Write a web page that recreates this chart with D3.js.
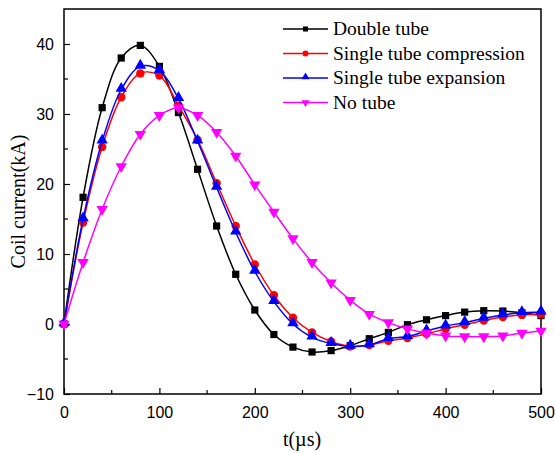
<!DOCTYPE html>
<html>
<head>
<meta charset="utf-8">
<script src="https://cdn.jsdelivr.net/npm/d3@7/dist/d3.min.js"></script>
<style>
  html, body { margin: 0; padding: 0; background: #fff; }
  svg { display: block; }
</style>
</head>
<body>
<svg id="chart" width="555" height="453"></svg>
<script>
// Sample times (µs)
const times = [0, 20, 40, 60, 80, 100, 120, 140, 160, 180, 200, 220, 240, 260,
               280, 300, 320, 340, 360, 380, 400, 420, 440, 460, 480, 500];

// Coil current (kA) per configuration
const doubleTube = [0, 18.1, 30.9, 38.0, 39.8, 36.8, 30.2, 22.1, 14.0, 7.1, 2.0, -1.5, -3.3, -4.0,
                    -3.8, -3.1, -2.1, -1.2, -0.1, 0.6, 1.2, 1.7, 1.9, 1.85, 1.6, 1.2];
const singleCompression = [0, 14.5, 25.3, 32.4, 35.8, 35.5, 31.2, 26.3, 20.1, 14.0, 8.5, 4.1, 0.9, -1.2,
                           -2.5, -3.2, -3.0, -2.4, -2.0, -1.4, -0.7, -0.1, 0.5, 1.0, 1.3, 1.4];
const singleExpansion = [0, 15.0, 26.1, 33.5, 36.8, 36.2, 32.2, 26.1, 19.5, 13.1, 7.5, 3.2, 0.0, -1.9,
                         -2.8, -3.2, -3.0, -2.1, -1.8, -1.0, -0.3, 0.2, 0.8, 1.3, 1.6, 1.7];
const noTube = [0, 8.8, 16.4, 22.5, 27.1, 29.8, 30.9, 29.8, 27.4, 24.0, 19.9, 16.0, 12.2, 8.8,
                5.9, 3.4, 1.4, 0.2, -0.7, -1.3, -1.7, -1.8, -1.8, -1.7, -1.3, -1.0];

const seriesNames = ["Double tube", "Single tube compression", "Single tube expansion", "No tube"];
const xTicks = [0, 100, 200, 300, 400, 500];
const yTicks = [-10, 0, 10, 20, 30, 40];

const series = [
  { name: seriesNames[0], values: doubleTube,        color: "#000000", symbol: "square" },
  { name: seriesNames[1], values: singleCompression, color: "#ff0000", symbol: "circle" },
  { name: seriesNames[2], values: singleExpansion,   color: "#0000ff", symbol: "up" },
  { name: seriesNames[3], values: noTube,            color: "#ff00ff", symbol: "down" }
];

const svg = d3.select("#chart");
const plotLeft = 64, plotTop = 9, plotRight = 541, plotBottom = 394;

const x = d3.scaleLinear().domain([0, 500]).range([plotLeft, plotRight]);
const y = d3.scaleLinear().domain([-10, 45]).range([plotBottom, plotTop]);

// Marker shapes
function markerPath(kind, big) {
  const k = big ? 1 : 0.7;
  if (kind === "square") return d3.symbol().type(d3.symbolSquare).size(52 * k * k)();
  if (kind === "circle") return d3.symbol().type(d3.symbolCircle).size(56 * k * k)();
  return d3.symbol().type(d3.symbolTriangle).size(56 * k * k)();
}
function markerTransform(kind, px, py) {
  if (kind === "down") return `translate(${px},${py}) rotate(180)`;
  if (kind === "up") return `translate(${px},${py - 1})`;
  return `translate(${px},${py})`;
}

// Axes (ticks pointing inward)
const xAxis = d3.axisBottom(x).tickValues(xTicks).tickSizeInner(-6).tickSizeOuter(0).tickPadding(13);
const yAxis = d3.axisLeft(y).tickValues(yTicks).tickSizeInner(-6).tickSizeOuter(0).tickPadding(10);

const gx = svg.append("g").attr("transform", `translate(0,${plotBottom})`).call(xAxis);
const gy = svg.append("g").attr("transform", `translate(${plotLeft},0)`).call(yAxis);

// Minor ticks
const xMinor = d3.range(50, 500, 100);
const yMinor = d3.range(-5, 45, 10);
svg.append("g").selectAll("line").data(xMinor).join("line")
  .attr("x1", d => x(d)).attr("x2", d => x(d))
  .attr("y1", plotBottom).attr("y2", plotBottom - 4)
  .attr("stroke", "#000").attr("stroke-width", 1.2);
svg.append("g").selectAll("line").data(yMinor).join("line")
  .attr("x1", plotLeft).attr("x2", plotLeft + 4)
  .attr("y1", d => y(d)).attr("y2", d => y(d))
  .attr("stroke", "#000").attr("stroke-width", 1.2);

[gx, gy].forEach(g => {
  g.select(".domain").remove();
  g.selectAll(".tick line").attr("stroke", "#000").attr("stroke-width", 1.2);
  g.selectAll(".tick text")
    .attr("font-family", "'Liberation Sans', Arial, sans-serif")
    .attr("font-size", 16).attr("fill", "#000");
});

// Plot frame
svg.append("rect")
  .attr("x", plotLeft).attr("y", plotTop)
  .attr("width", plotRight - plotLeft).attr("height", plotBottom - plotTop)
  .attr("fill", "none").attr("stroke", "#000").attr("stroke-width", 1.5);

// Curves and markers
const line = d3.line()
  .x((d, i) => x(times[i]))
  .y(d => y(d))
  .curve(d3.curveCatmullRom.alpha(0.5));

series.forEach(s => {
  const g = svg.append("g");
  g.append("path")
    .attr("d", line(s.values))
    .attr("fill", "none")
    .attr("stroke", s.color)
    .attr("stroke-width", 1.5);
  g.selectAll("path.mk").data(s.values).join("path")
    .attr("class", "mk")
    .attr("d", markerPath(s.symbol, true))
    .attr("transform", (d, i) => markerTransform(s.symbol, x(times[i]), y(d)))
    .attr("fill", s.color);
});

// Legend
const legend = svg.append("g");
const rowY = [29, 53.5, 78, 102.5];
series.forEach((s, i) => {
  const ry = rowY[i];
  legend.append("line")
    .attr("x1", 283).attr("x2", 328).attr("y1", ry).attr("y2", ry)
    .attr("stroke", s.color).attr("stroke-width", 1.5);
  legend.append("path")
    .attr("d", markerPath(s.symbol, false))
    .attr("transform", markerTransform(s.symbol, 305.5, ry))
    .attr("fill", s.color);
  legend.append("text")
    .attr("x", 333).attr("y", ry + 6)
    .attr("font-family", "'Liberation Serif', 'Times New Roman', serif")
    .attr("font-size", 19.5)
    .attr("fill", "#000")
    .text(s.name);
});

// Axis titles
svg.append("text")
  .attr("x", 302).attr("y", 446)
  .attr("text-anchor", "middle")
  .attr("font-family", "'Liberation Serif', 'Times New Roman', serif")
  .attr("font-size", 20)
  .attr("fill", "#000")
  .text("t(µs)");

svg.append("text")
  .attr("transform", `translate(25,${(plotTop + plotBottom) / 2}) rotate(-90)`)
  .attr("text-anchor", "middle")
  .attr("font-family", "'Liberation Serif', 'Times New Roman', serif")
  .attr("font-size", 20)
  .attr("fill", "#000")
  .text("Coil current(kA)");
</script>
</body>
</html>
